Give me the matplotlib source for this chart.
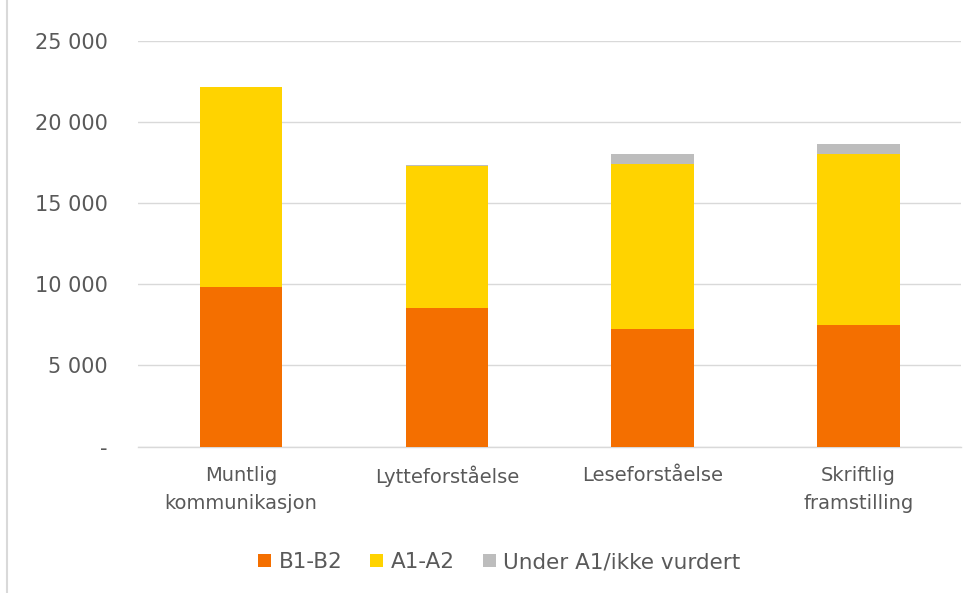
import matplotlib.pyplot as plt
from matplotlib.lines import Line2D
from matplotlib.ticker import FuncFormatter
import numpy as np

categories = ['Muntlig\nkommunikasjon', 'Lytteforståelse', 'Leseforståelse', 'Skriftlig\nframstilling']
b1_b2 = [9850, 8520, 7240, 7490]
a1_a2 = [12300, 8740, 10180, 10570]
under_a1 = [0, 120, 580, 560]

series = ['B1-B2', 'A1-A2', 'Under A1/ikke vurdert']
colors = ['#F46F00', '#FFD300', '#BDBDBD']
text_col = '#595959'

plt.rcParams['font.family'] = ['DejaVu Sans']

fig = plt.figure(figsize=(9.79, 5.93), dpi=100)
ax = fig.add_axes([0.141, 0.247, 0.841, 0.684])

x = np.arange(len(categories))
bottom = np.zeros(len(categories))
for name, vals, c in zip(series, [b1_b2, a1_a2, under_a1], colors):
    ax.bar(x, vals, width=0.40, bottom=bottom, color=c, label=name, zorder=3)
    bottom += np.array(vals)

ax.set_ylim(0, 25000)
ax.set_xlim(-0.5, len(categories) - 0.5)
ax.set_yticks(np.arange(0, 25001, 5000))
ax.yaxis.set_major_formatter(FuncFormatter(
    lambda v, pos: '-' if v == 0 else f'{int(v):,}'.replace(',', ' ')))
ax.set_xticks(x)
ax.set_xticklabels(categories, fontsize=14, color=text_col, linespacing=1.6)
ax.tick_params(axis='y', labelsize=15, labelcolor=text_col, length=0, pad=22)
ax.tick_params(axis='x', length=0, pad=14)
ax.grid(axis='y', color='#D9D9D9', linewidth=1.0, zorder=0)
for s in ['top', 'right', 'left']:
    ax.spines[s].set_visible(False)
ax.spines['bottom'].set_color('#D9D9D9')
ax.spines['bottom'].set_linewidth(1.0)

ax.legend(loc='center', bbox_to_anchor=(0.51, 0.052), bbox_transform=fig.transFigure,
          ncol=3, frameon=False, fontsize=15.5, labelcolor=text_col,
          handlelength=0.6, handleheight=0.6, handletextpad=0.35, columnspacing=1.3)

fig.add_artist(Line2D([0.007, 0.007], [0, 1], transform=fig.transFigure,
                      color='#D9D9D9', linewidth=1.5))

fig.savefig('out.png', dpi=100)
